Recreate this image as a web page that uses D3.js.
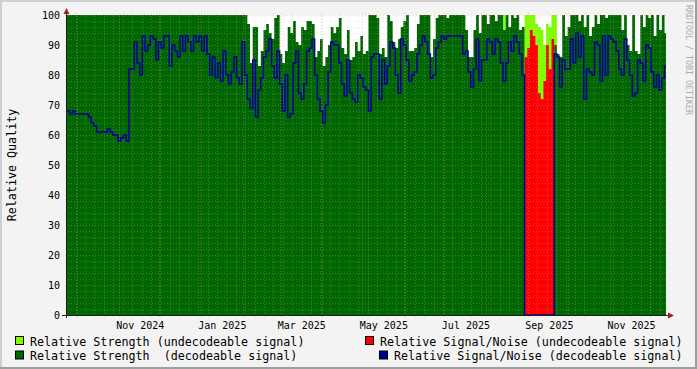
<!DOCTYPE html>
<html>
<head>
<meta charset="utf-8">
<script src="https://cdn.jsdelivr.net/npm/d3@7"></script>
<style>
body { margin: 0; background: #fff; }
svg { display: block; }
</style>
</head>
<body>
<script>
// one value every 2 days, starting at the left edge of the graph
var startTime = Date.UTC(2024, 8, 23, 13, 40);
var endTime = Date.UTC(2025, 11, 12, 15, 50);
var stepDays = 2;

var snrDecodeable = [
  68,67,68,67,67,67,67,67,66,64,
  63,61,61,61,61,62,61,60,60,58,
  59,60,58,82,82,91,84,80,93,88,
  90,93,92,85,91,89,93,93,83,90,
  88,86,93,88,93,91,88,93,91,93,
  88,93,87,80,86,79,84,78,88,80,
  77,81,86,79,77,91,80,72,69,85,
  66,75,79,86,88,92,83,79,88,77,
  68,80,66,67,84,88,74,72,77,88,
  89,92,80,72,68,64,70,81,91,90,
  90,84,77,73,85,74,72,71,80,79,
  76,75,68,86,87,87,72,85,77,83,
  91,89,80,74,92,90,85,78,80,81,
  87,90,93,91,87,79,80,89,91,93,
  92,93,93,93,93,93,93,87,88,81,
  76,82,92,78,85,85,92,91,87,92,
  91,84,78,84,91,88,93,91,87,80,
  0,0,0,0,0,0,0,0,0,0,
  0,87,86,76,85,82,82,92,84,94,
  86,93,72,82,81,80,91,90,78,93,
  80,93,92,91,88,82,80,92,85,80,
  73,74,85,84,78,90,89,81,76,80,
  75,79,83
];

var strengthDecodeable = [
  100,100,100,100,100,100,100,100,100,100,
  100,100,100,100,100,100,100,100,100,100,
  100,100,100,100,100,100,100,100,100,100,
  100,100,100,100,100,100,100,100,100,100,
  100,100,100,100,100,100,100,100,100,100,
  100,100,100,100,100,100,100,100,100,100,
  100,100,100,100,100,100,100,97,84,96,
  96,83,88,95,97,94,92,99,100,87,
  84,88,96,94,98,91,90,96,95,98,
  98,97,86,88,92,83,86,90,96,94,
  96,99,89,87,95,85,86,91,88,93,
  87,88,100,100,100,99,87,89,86,100,
  98,91,89,92,96,98,100,88,88,89,
  97,100,100,100,100,86,92,99,100,100,
  100,99,100,100,100,100,100,100,95,86,
  86,95,100,94,100,100,97,100,100,98,
  100,100,95,100,96,100,99,100,95,96,
  0,0,0,0,0,0,0,0,0,0,
  0,90,87,86,100,93,96,100,100,100,
  98,100,96,100,93,96,100,97,100,100,
  99,100,100,100,100,100,95,100,90,88,
  100,88,87,100,96,100,99,100,93,100,
  95,100,94
];

// undecodeable period, first value is point number 162
var undecodeableFrom = 162;
var strengthUndecodeable = [100,0,0,0,0,0,0,0,100,100,100,100,97,96,95,90,97,96,100,100,0];
var snrUndecodeable = [0,0,0,0,0,0,0,0,86,89,95,93,90,74,72,78,90,82,92,0,0];

var yTicks = [0,10,20,30,40,50,60,70,80,90,100];
var legendLabels = [
  "Relative Strength (undecodeable signal)",
  "Relative Signal/Noise (undecodeable signal)",
  "Relative Strength  (decodeable signal)",
  "Relative Signal/Noise (decodeable signal)"
];
var legendColors = ["#80FF00", "#FF0000", "#006600", "#000099"];

var W = 697, H = 369;
var plotLeft = 67, plotRight = 666, plotTop = 15, plotBottom = 315;
var font = "'DejaVu Sans Mono', monospace";

var svg = d3.select("body").append("svg")
  .attr("width", W)
  .attr("height", H);

// frame
svg.append("rect").attr("width", W).attr("height", H).attr("fill", "#F3F3F3");
svg.append("path").attr("d", "M0,1H" + W + "M1,0V" + H).attr("stroke", "#CFCFCF").attr("stroke-width", 2);
svg.append("path").attr("d", "M0," + (H - 1) + "H" + W + "M" + (W - 1) + ",0V" + H).attr("stroke", "#9E9E9E").attr("stroke-width", 2);
svg.append("rect").attr("x", plotLeft).attr("y", plotTop).attr("width", plotRight - plotLeft).attr("height", plotBottom - plotTop).attr("fill", "#FFFFFF");

var x = d3.scaleUtc().domain([new Date(startTime), new Date(endTime)]).range([plotLeft, plotRight]);
var y = d3.scaleLinear().domain([0, 100]).range([plotBottom, plotTop]);

function toPoints(arr, offset) {
  var pts = arr.map(function(v, i) {
    return { t: new Date(startTime + (i + offset) * stepDays * 864e5), v: v };
  });
  var last = pts[pts.length - 1];
  var tEnd = Math.min(endTime, +last.t + stepDays * 864e5);
  pts.push({ t: new Date(tEnd), v: last.v });
  return pts;
}

var area = d3.area()
  .curve(d3.curveStepAfter)
  .x(function(d) { return x(d.t); })
  .y0(y(0))
  .y1(function(d) { return y(d.v); });

var line = d3.line()
  .curve(d3.curveStepAfter)
  .x(function(d) { return x(d.t); })
  .y(function(d) { return y(d.v); });

var plot = svg.append("g");
plot.append("path").datum(toPoints(strengthUndecodeable, undecodeableFrom)).attr("d", area).attr("fill", legendColors[0]);
plot.append("path").datum(toPoints(snrUndecodeable, undecodeableFrom)).attr("d", area).attr("fill", legendColors[1]);
plot.append("path").datum(toPoints(strengthDecodeable, 0)).attr("d", area).attr("fill", legendColors[2]);

// grid
var grid = svg.append("g").attr("shape-rendering", "crispEdges");
var minorY = d3.range(0, 101, 2).filter(function(v) { return v % 10 != 0; });
var weeks = d3.utcMonday.range(new Date(startTime), new Date(endTime));
var months = d3.utcMonth.range(new Date(startTime), new Date(endTime));

function hLines(cls, vals, color, op) {
  grid.selectAll("." + cls).data(vals).enter().append("line")
    .attr("x1", plotLeft - 2).attr("x2", plotRight + 2)
    .attr("y1", function(d) { return Math.round(y(d)) + 0.5; })
    .attr("y2", function(d) { return Math.round(y(d)) + 0.5; })
    .attr("stroke", color).attr("stroke-opacity", op).attr("stroke-dasharray", "1,2");
}
function vLines(cls, vals, color, op) {
  grid.selectAll("." + cls).data(vals).enter().append("line")
    .attr("y1", plotTop - 2).attr("y2", plotBottom + 2)
    .attr("x1", function(d) { return Math.round(x(d)) + 0.5; })
    .attr("x2", function(d) { return Math.round(x(d)) + 0.5; })
    .attr("stroke", color).attr("stroke-opacity", op).attr("stroke-dasharray", "1,2");
}
hLines("hmin", minorY, "#C0C0C0", 0.3);
vLines("vmin", weeks, "#C0C0C0", 0.3);
hLines("hmaj", yTicks, "#FF8080", 0.4);
vLines("vmaj", months, "#FF8080", 0.4);

// S/N line on top
svg.append("path").datum(toPoints(snrDecodeable, 0))
  .attr("d", line)
  .attr("fill", "none")
  .attr("stroke", legendColors[3])
  .attr("stroke-width", 1.5);

// axes
svg.append("path")
  .attr("d", "M66.5," + (plotBottom + 3) + "V11M62," + (plotBottom + 0.5) + "H670")
  .attr("stroke", "#202020").attr("fill", "none").attr("shape-rendering", "crispEdges");
svg.append("path").attr("d", "M63.5,14L66.5,8L69.5,14Z").attr("fill", "#9E2020");
svg.append("path").attr("d", "M668," + (plotBottom - 2.5) + "L674," + (plotBottom + 0.5) + "L668," + (plotBottom + 3.5) + "Z").attr("fill", "#9E2020");

svg.selectAll(".ytick").data(yTicks).enter().append("text")
  .attr("x", 60)
  .attr("y", function(d) { return y(d) + 3.7; })
  .attr("text-anchor", "end")
  .style("font-family", font).style("font-size", "10px").attr("fill", "#000")
  .text(function(d) { return d; });

var labelMonths = d3.utcMonth.every(2).range(new Date(startTime), new Date(endTime));
var fmt = d3.utcFormat("%b %Y");
svg.selectAll(".xtick").data(labelMonths).enter().append("text")
  .attr("x", function(d) { return x(d3.utcDay.offset(d, 16)); })
  .attr("y", 328.5)
  .attr("text-anchor", "middle")
  .style("font-family", font).style("font-size", "10px").attr("fill", "#000")
  .text(function(d) { return fmt(d); });

svg.append("text")
  .attr("transform", "translate(16,165) rotate(-90)")
  .attr("text-anchor", "middle")
  .style("font-family", font).style("font-size", "11.7px").attr("fill", "#000")
  .text("Relative Quality");

svg.append("text")
  .attr("transform", "translate(686,5) rotate(90)")
  .style("font-family", font).style("font-size", "8.3px").attr("fill", "#ABABAB")
  .text("RRDTOOL / TOBI OETIKER");

// legend
var legendPos = [
  { sx: 15, tx: 30, row: 0 },
  { sx: 365, tx: 380, row: 0 },
  { sx: 15, tx: 30, row: 1 },
  { sx: 379, tx: 394, row: 1 }
];
var legend = svg.selectAll(".leg").data(legendLabels).enter().append("g");
legend.append("rect")
  .attr("x", function(d, i) { return legendPos[i].sx + 0.5; })
  .attr("y", function(d, i) { return 336.5 + legendPos[i].row * 14.5; })
  .attr("width", 8).attr("height", 8)
  .attr("fill", function(d, i) { return legendColors[i]; })
  .attr("stroke", "#000");
legend.append("text")
  .attr("x", function(d, i) { return legendPos[i].tx; })
  .attr("y", function(d, i) { return 345.5 + legendPos[i].row * 14.5; })
  .style("font-family", font).style("font-size", "11.7px").attr("fill", "#000")
  .style("white-space", "pre")
  .text(function(d) { return d; });
</script>
</body>
</html>
